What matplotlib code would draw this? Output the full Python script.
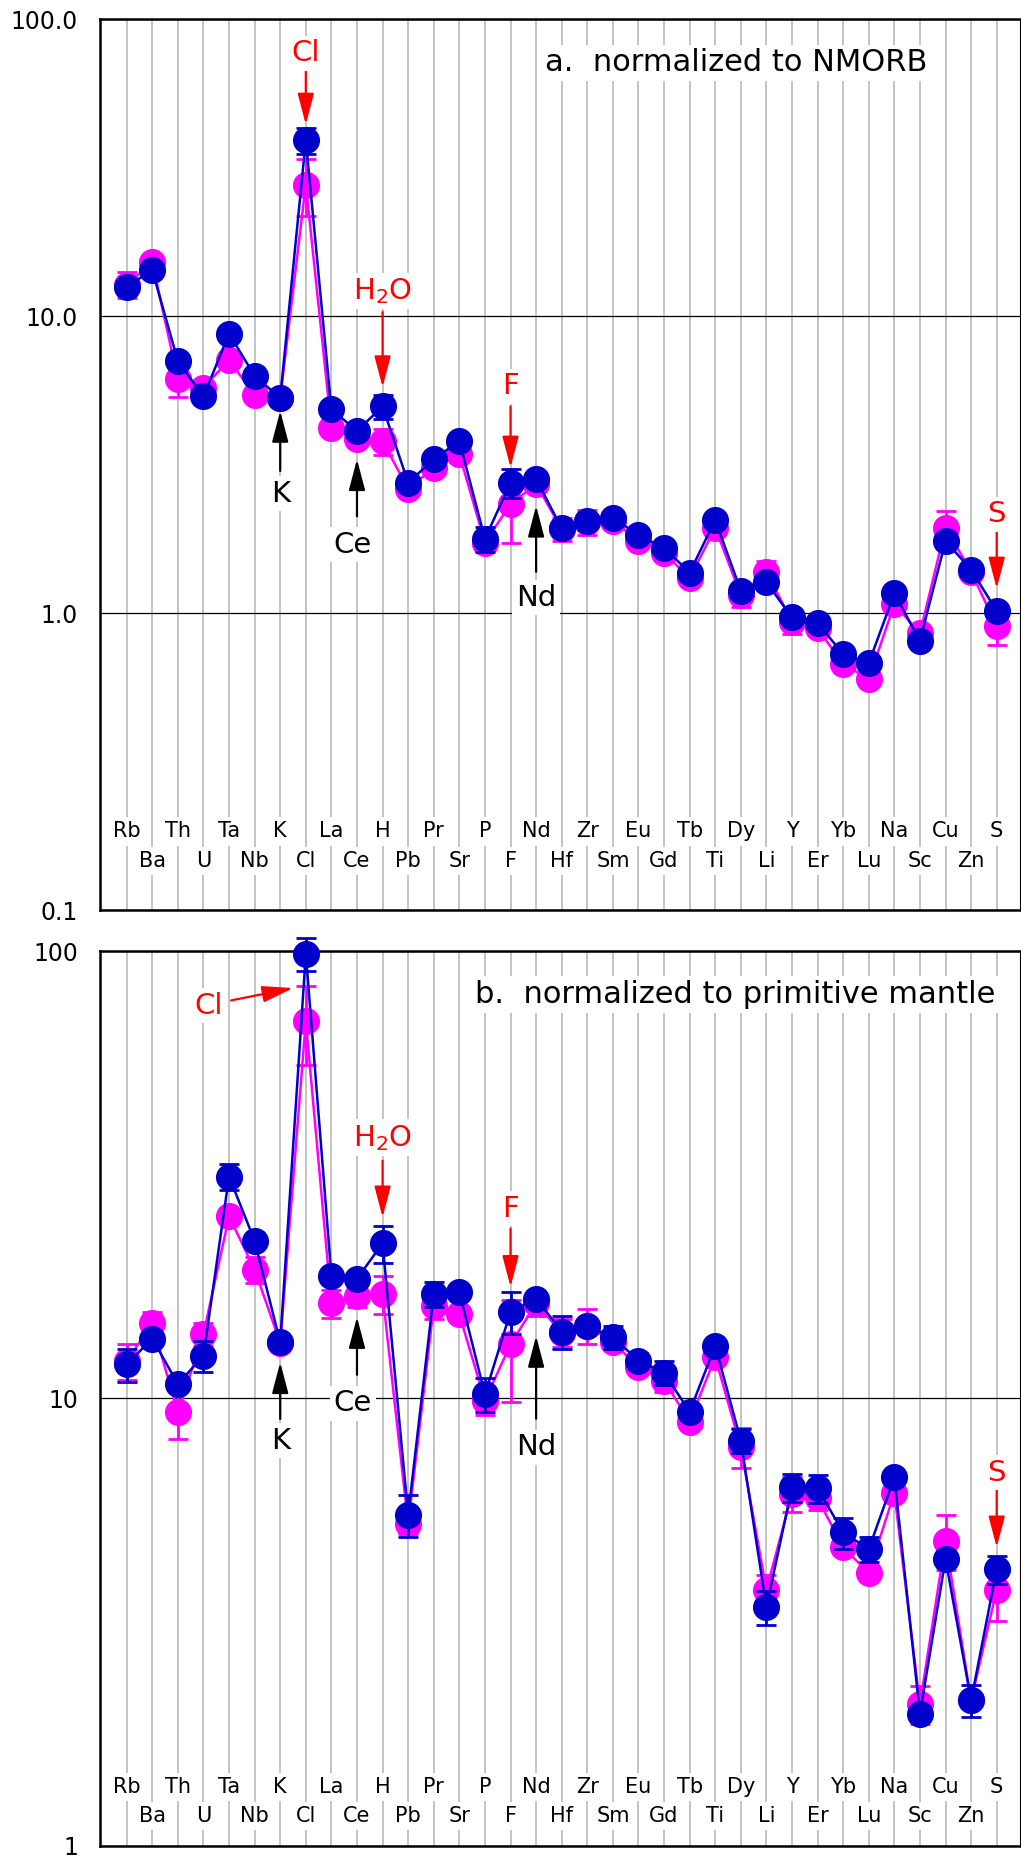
import numpy as np
import matplotlib.pyplot as plt
from matplotlib.transforms import offset_copy, blended_transform_factory
from matplotlib.ticker import NullLocator

elements = ['Rb', 'Ba', 'Th', 'U', 'Ta', 'Nb', 'K', 'Cl', 'La', 'Ce', 'H', 'Pb',
            'Pr', 'Sr', 'P', 'F', 'Nd', 'Hf', 'Zr', 'Sm', 'Eu', 'Gd', 'Tb', 'Ti',
            'Dy', 'Li', 'Y', 'Er', 'Yb', 'Lu', 'Na', 'Sc', 'Cu', 'Zn', 'S']

# a. normalized to NMORB
nmorb_pink = [12.8, 15.2, 6.14, 5.75, 7.13, 5.42, 5.3, 27.8, 4.22, 3.85, 3.80, 2.62,
              3.09, 3.43, 1.73, 2.33, 2.72, 1.92, 2.03, 2.05, 1.75, 1.60, 1.31, 1.94,
              1.15, 1.38, 0.935, 0.888, 0.673, 0.600, 1.072, 0.855, 1.94, 1.38, 0.902]
nmorb_pink_err = [1.3, 0.5, 0.8, 0.2, 0.25, 0.2, 0.2, 6.0, 0.15, 0.15, 0.38, 0.1,
                  0.1, 0.12, 0.06, 0.6, 0.1, 0.17, 0.2, 0.07, 0.06, 0.06, 0.05, 0.07,
                  0.1, 0.12, 0.085, 0.03, 0.025, 0.02, 0.04, 0.03, 0.27, 0.05, 0.12]
nmorb_blue = [12.6, 14.3, 7.07, 5.37, 8.74, 6.30, 5.31, 39.2, 4.86, 4.11, 4.97, 2.75,
              3.30, 3.80, 1.78, 2.75, 2.83, 1.93, 2.05, 2.10, 1.83, 1.66, 1.37, 2.06,
              1.19, 1.27, 0.967, 0.925, 0.728, 0.679, 1.165, 0.807, 1.75, 1.40, 1.018]
nmorb_blue_err = [0.4, 0.4, 0.2, 0.15, 0.25, 0.2, 0.15, 4.0, 0.15, 0.12, 0.45, 0.08,
                  0.1, 0.1, 0.17, 0.3, 0.08, 0.06, 0.06, 0.06, 0.05, 0.05, 0.04, 0.06,
                  0.03, 0.04, 0.03, 0.03, 0.02, 0.02, 0.03, 0.02, 0.05, 0.04, 0.03]

# b. normalized to primitive mantle
pm_pink = [12.1, 14.7, 9.30, 13.9, 25.5, 19.4, 13.3, 69.7, 16.3, 16.96, 17.1, 5.23,
           16.06, 15.4, 9.88, 13.2, 16.3, 14.0, 14.5, 13.35, 11.73, 10.95, 8.87, 12.35,
           7.77, 3.73, 6.11, 5.97, 4.64, 4.07, 6.14, 2.07, 4.80, 2.11, 3.73]
pm_pink_err = [1.1, 0.9, 1.2, 0.8, 0.6, 1.3, 0.4, 14.0, 1.2, 1.0, 1.7, 0.26,
               1.0, 0.5, 0.7, 3.4, 1.0, 1.0, 1.3, 0.4, 0.35, 0.6, 0.25, 0.35,
               0.8, 0.3, 0.55, 0.35, 0.14, 0.12, 0.18, 0.2, 0.67, 0.06, 0.55]
pm_blue = [11.9, 13.6, 10.76, 12.45, 31.3, 22.5, 13.34, 98.6, 18.8, 18.5, 22.2, 5.49,
           17.1, 17.3, 10.2, 15.6, 16.7, 14.1, 14.5, 13.7, 12.14, 11.4, 9.33, 13.1,
           8.04, 3.41, 6.32, 6.29, 5.01, 4.60, 6.65, 1.97, 4.37, 2.11, 4.15]
pm_blue_err = [1.0, 0.4, 0.3, 1.0, 2.1, 0.7, 0.4, 8.5, 0.5, 0.5, 2.1, 0.6,
               1.1, 0.5, 0.9, 1.7, 0.5, 1.2, 0.4, 0.8, 0.5, 0.7, 0.3, 0.4,
               0.5, 0.3, 0.45, 0.45, 0.4, 0.3, 0.2, 0.06, 0.15, 0.17, 0.3]

PINK = '#ff00ff'
BLUE = '#0000cc'
RED = '#ff0000'


def pt(v):
    # pixel offsets -> points at 100 dpi
    return v * 72 / 100


def note(ax, fig, i, yval, label, color, text_off, start_off, tip_off):
    tr = ax.transData
    ax.annotate('', xy=(i, yval), xycoords=offset_copy(tr, fig, pt(tip_off[0]), pt(tip_off[1]), units='points'),
                xytext=(i, yval), textcoords=offset_copy(tr, fig, pt(start_off[0]), pt(start_off[1]), units='points'),
                arrowprops=dict(arrowstyle='-|>,head_length=0.95,head_width=0.25', mutation_scale=20,
                                color=color, lw=1.6, shrinkA=0, shrinkB=0),
                annotation_clip=False, zorder=6)
    ax.text(i, yval, label, color=color, fontsize=21, ha='center', va='baseline',
            transform=offset_copy(tr, fig, pt(text_off[0]), pt(text_off[1]), units='points'),
            bbox=dict(boxstyle='square,pad=0.12', fc='white', ec='none'), zorder=6)


def draw_panel(ax, fig, pink, pink_err, blue, blue_err, ylim, yticks, yticklabels,
               title, title_x, label_rows, notes):
    x = np.arange(len(elements))
    ax.set_yscale('log')
    ax.set_xlim(-1.043, 34.91)
    ax.set_ylim(*ylim)
    ax.set_xticks(x)
    ax.set_yticks(yticks)
    ax.set_yticklabels(yticklabels)
    ax.yaxis.set_minor_locator(NullLocator())
    ax.tick_params(axis='x', length=0, labelbottom=False)
    ax.tick_params(axis='y', length=0, pad=pt(22), labelsize=17)
    ax.set_axisbelow(True)
    ax.xaxis.grid(True, color='#b4b4b4', lw=1.1)
    ax.yaxis.grid(True, color='black', lw=0.9)
    for side in ['left', 'top', 'bottom']:
        ax.spines[side].set_linewidth(1.8)
    ax.spines['right'].set_linewidth(0.8)

    for vals, errs, col, z in [(pink, pink_err, PINK, 3), (blue, blue_err, BLUE, 4)]:
        eb = ax.errorbar(x, vals, yerr=errs, fmt='o-', color=col, ms=18.5, mec=col, lw=1.8,
                         elinewidth=2, capsize=7, capthick=2, zorder=z)
        eb[0].set_clip_on(False)
        eb[0].set_markeredgewidth(1)
        # bars and caps sit just under their own markers
        for a in list(eb[1]) + list(eb[2]):
            a.set_clip_on(False)
            a.set_zorder(z - 0.4)

    # element names in two staggered rows
    tb = blended_transform_factory(ax.transData, ax.transAxes)
    for i, name in enumerate(elements):
        ax.text(i, label_rows[i % 2], name, transform=tb, fontsize=15, ha='center',
                va='baseline', bbox=dict(boxstyle='square,pad=0.2', fc='white', ec='none'),
                zorder=2.5)

    ax.text(title_x, 0.9418, title, transform=ax.transAxes, fontsize=22, ha='left',
            va='baseline', bbox=dict(boxstyle='square,pad=0.12', fc='white', ec='none'),
            zorder=5)

    for name, label, color, t_off, s_off, tip in notes:
        i = elements.index(name)
        note(ax, fig, i, blue[i], label, color, t_off, s_off, tip)


H2O = r'H$_\mathregular{2}$O'

notes_a = [
    ('Cl', 'Cl', RED, (0, 79), (0, 71.7), (0, 15.7)),
    ('H', H2O, RED, (0, 107.3), (0, 94.3), (0, 19.3)),
    ('F', 'F', RED, (0, 88.3), (0, 76.3), (0, 15.3)),
    ('S', 'S', RED, (0, 88.4), (0, 79), (0, 22.4)),
    ('K', 'K', 'black', (0, -104), (0, -73), (0, -13)),
    ('Ce', 'Ce', 'black', (-4, -121.6), (0, -85.3), (0, -28.3)),
    ('Nd', 'Nd', 'black', (0, -126.7), (0, -92.7), (0, -26.7)),
]
notes_b = [
    ('Cl', 'Cl', RED, (-96.8, -60), (-74.8, -46.7), (-12.5, -34.3)),
    ('H', H2O, RED, (0, 97.6), (0, 82.6), (0, 26)),
    ('F', 'F', RED, (0, 95), (0, 83.3), (0, 25)),
    ('S', 'S', RED, (0, 88.3), (0, 78.3), (0, 21.7)),
    ('K', 'K', 'black', (0, -106.7), (0, -76.7), (0, -20)),
    ('Ce', 'Ce', 'black', (-4, -132.7), (0, -96), (0, -38.3)),
    ('Nd', 'Nd', 'black', (0, -156.7), (0, -120), (0, -37.3)),
]

fig = plt.figure(figsize=(10.21, 18.6), dpi=100)
ax_a = fig.add_axes([100 / 1021, 1 - 910 / 1860, 920 / 1021, 890.5 / 1860])
ax_b = fig.add_axes([100 / 1021, 1 - 1845.5 / 1860, 920 / 1021, 894.5 / 1860])

draw_panel(ax_a, fig, nmorb_pink, nmorb_pink_err, nmorb_blue, nmorb_blue_err,
           (0.1, 100), [0.1, 1, 10, 100], ['0.1', '1.0', '10.0', '100.0'],
           'a.  normalized to NMORB', 0.4837, (0.0816, 0.0486), notes_a)
draw_panel(ax_b, fig, pm_pink, pm_pink_err, pm_blue, pm_blue_err,
           (1, 100), [1, 10, 100], ['1', '10', '100'],
           'b.  normalized to primitive mantle', 0.4076, (0.0590, 0.0266), notes_b)

fig.savefig('out.png', dpi=100)
